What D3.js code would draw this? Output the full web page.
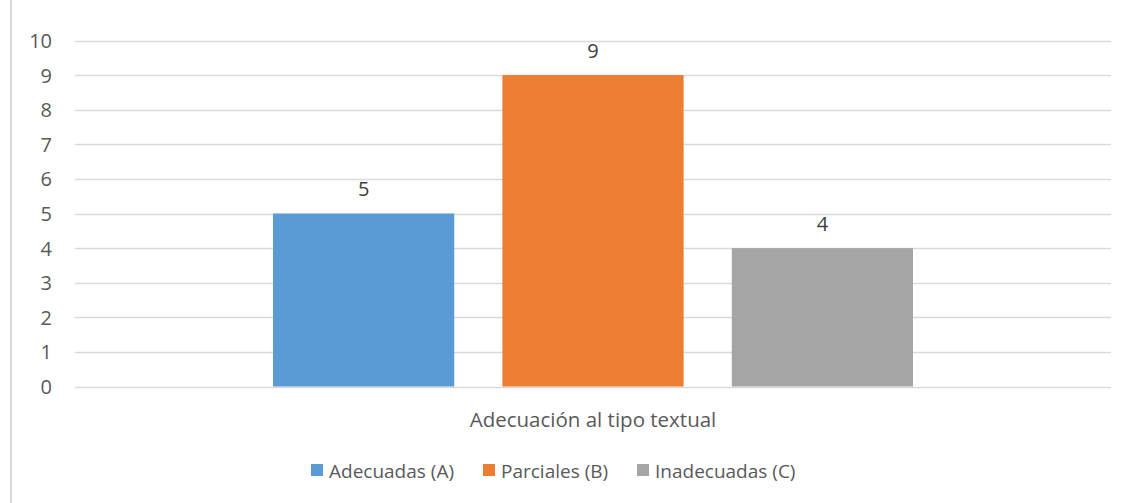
<!DOCTYPE html>
<html>
<head>
<meta charset="utf-8">
<script src="https://cdn.jsdelivr.net/npm/d3@7"></script>
<style>
  body { margin: 0; background: #fff; }
  svg { font-family: "Open Sans", "Noto Sans", sans-serif; }
</style>
</head>
<body>
<div id="chart"></div>
<script>
// chart data
var category = "Adecuación al tipo textual"
var seriesNames = ["Adecuadas (A)", "Parciales (B)", "Inadecuadas (C)"]
var seriesValues = [5, 9, 4]
var seriesColors = ["#5b9bd5", "#ed7d31", "#a5a5a5"]
var yTicks = [0, 1, 2, 3, 4, 5, 6, 7, 8, 9, 10]

var w = 1127, h = 503
var m = {left: 75, right: 1111, top: 40.5, bottom: 386.5}

var svg = d3.select("#chart")
  .append("svg")
  .attr("width", w)
  .attr("height", h)

// left frame line
svg.append("line")
  .attr("x1", 11).attr("x2", 11)
  .attr("y1", 0).attr("y2", h)
  .attr("stroke", "#d9d9d9")
  .attr("stroke-width", 2)

var y = d3.scaleLinear().domain([0, 10]).range([m.bottom, m.top])

var x0 = d3.scaleBand().domain([category]).range([m.left, m.right])
var x1 = d3.scaleBand().domain(seriesNames)
  .range([198, 838]).paddingInner(0.21)

// gridlines
svg.append("g")
  .selectAll("line")
  .data(yTicks)
  .join("line")
  .attr("x1", m.left).attr("x2", m.right)
  .attr("y1", function(d) { return Math.round(y(d)) + 0.5 })
  .attr("y2", function(d) { return Math.round(y(d)) + 0.5 })
  .attr("stroke", "#d9d9d9")
  .attr("stroke-width", 1.5)

// y labels
svg.append("g")
  .selectAll("text")
  .data(yTicks)
  .join("text")
  .attr("x", 52)
  .attr("y", function(d) { return y(d) + 7.5 })
  .attr("text-anchor", "end")
  .attr("fill", "#595959")
  .attr("font-size", 20)
  .text(function(d) { return d })

// bars
var bars = svg.append("g")
  .attr("transform", "translate(" + x0(category) + ",0)")

bars.selectAll("rect")
  .data(seriesValues)
  .join("rect")
  .attr("x", function(d, i) { return x1(seriesNames[i]) })
  .attr("y", function(d) { return y(d) })
  .attr("width", x1.bandwidth())
  .attr("height", function(d) { return y(0) - y(d) })
  .attr("fill", function(d, i) { return seriesColors[i] })

bars.selectAll("text")
  .data(seriesValues)
  .join("text")
  .attr("x", function(d, i) { return x1(seriesNames[i]) + x1.bandwidth() / 2 })
  .attr("y", function(d) { return y(d) - 17.5 })
  .attr("text-anchor", "middle")
  .attr("fill", "#404040")
  .attr("font-size", 20)
  .text(function(d) { return d })

// category label
svg.append("text")
  .attr("x", x0(category) + x0.bandwidth() / 2)
  .attr("y", 427)
  .attr("text-anchor", "middle")
  .attr("fill", "#595959")
  .attr("font-size", 20.5)
  .text(category)

// legend
var legendX = [311, 483, 637]
var legend = svg.append("g")
  .selectAll("g")
  .data(seriesNames)
  .join("g")
  .attr("transform", function(d, i) { return "translate(" + legendX[i] + ",464)" })

legend.append("rect")
  .attr("width", 12).attr("height", 12)
  .attr("fill", function(d, i) { return seriesColors[i] })

legend.append("text")
  .attr("x", 18)
  .attr("y", 14)
  .attr("fill", "#595959")
  .attr("font-size", 19)
  .text(function(d) { return d })
</script>
</body>
</html>
